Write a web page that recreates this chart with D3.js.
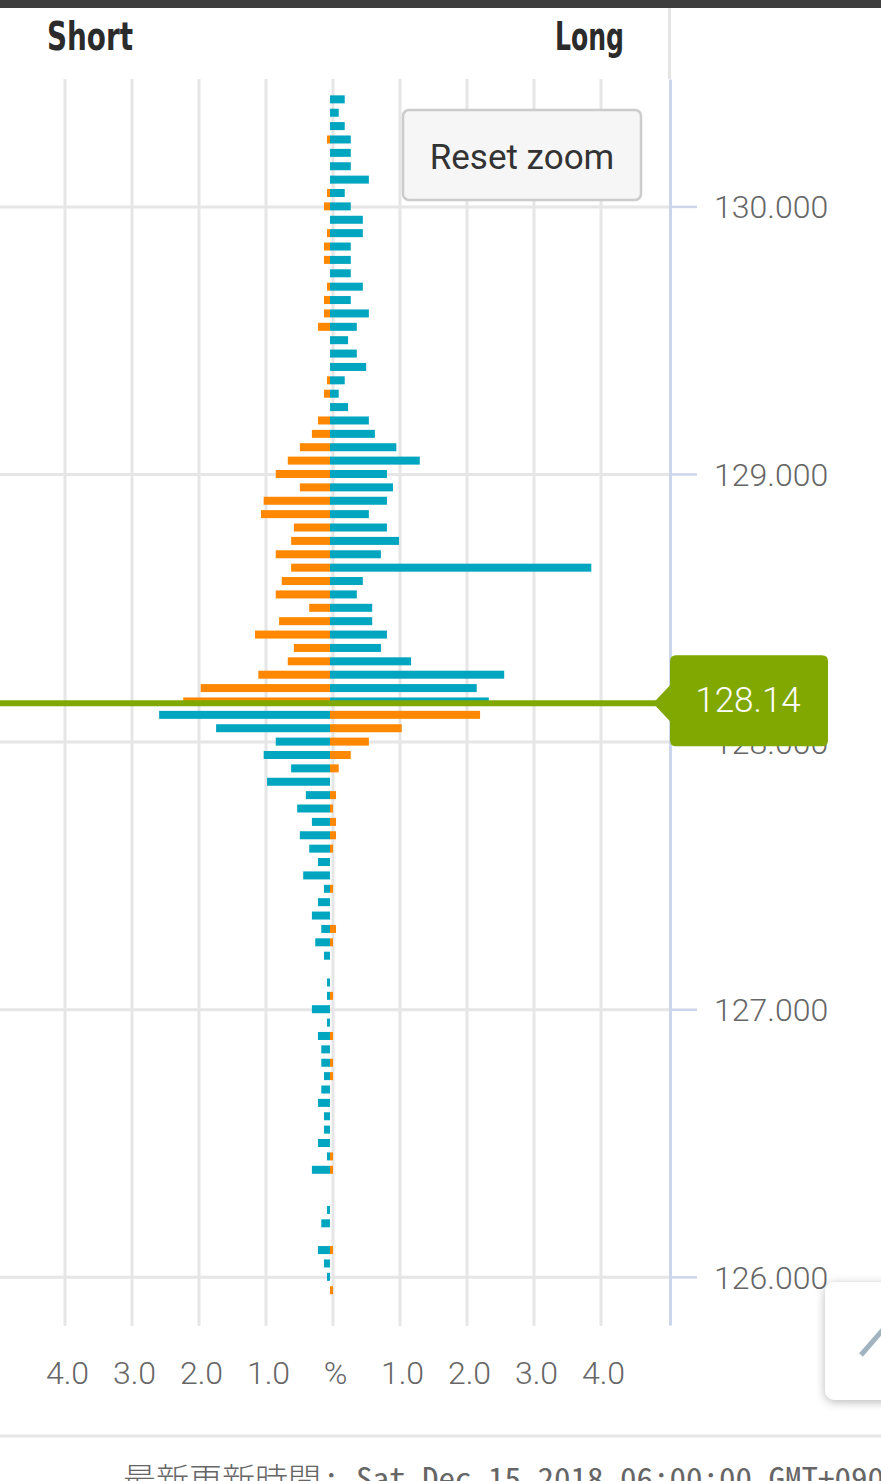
<!DOCTYPE html>
<html><head><meta charset="utf-8">
<script src="https://cdn.jsdelivr.net/npm/d3@7"></script>
<style>
html,body{margin:0;padding:0;background:#fff;overflow:hidden}
svg{display:block}
</style>
</head><body>
<svg id="chart" width="881" height="1481"></svg>
<script>
// ---- data ----
const prices = [130.40,130.35,130.30,130.25,130.20,130.15,130.10,130.05,130.00,129.95,
  129.90,129.85,129.80,129.75,129.70,129.65,129.60,129.55,129.50,129.45,
  129.40,129.35,129.30,129.25,129.20,129.15,129.10,129.05,129.00,128.95,
  128.90,128.85,128.80,128.75,128.70,128.65,128.60,128.55,128.50,128.45,
  128.40,128.35,128.30,128.25,128.20,128.15,128.10,128.05,128.00,127.95,
  127.90,127.85,127.80,127.75,127.70,127.65,127.60,127.55,127.50,127.45,
  127.40,127.35,127.30,127.25,127.20,127.15,127.10,127.05,127.00,126.95,
  126.90,126.85,126.80,126.75,126.70,126.65,126.60,126.55,126.50,126.45,
  126.40,126.35,126.30,126.25,126.20,126.15,126.10,126.05,126.00,125.95];
const orangeValues = [0,0,0,-0.045,0,0,0,-0.045,-0.09,0,
  -0.045,-0.09,-0.09,0,-0.045,-0.09,-0.09,-0.18,0,0,
  0,-0.045,-0.09,0,-0.18,-0.27,-0.45,-0.63,-0.81,-0.45,
  -0.99,-1.03,-0.54,-0.58,-0.81,-0.58,-0.72,-0.81,-0.31,-0.76,
  -1.12,-0.54,-0.63,-1.07,-1.93,-2.19,2.24,1.07,0.58,0.31,
  0.13,0,0.09,0.045,0.09,0.09,0.045,0,0,0.045,
  0,0,0.09,0.045,0,0,0,0.045,0,0,
  0.045,0,0.045,0.045,0,0,0,0,0,0.045,
  0.045,0,0,0,0,0,0.045,0,0,0.045];
const blueValues = [0.22,0.13,0.22,0.31,0.31,0.31,0.58,0.22,0.31,0.49,
  0.49,0.31,0.31,0.31,0.49,0.31,0.58,0.40,0.27,0.40,
  0.54,0.22,0.13,0.27,0.58,0.67,0.99,1.34,0.85,0.94,
  0.85,0.58,0.85,1.03,0.76,3.90,0.49,0.40,0.63,0.63,
  0.85,0.76,1.21,2.60,2.19,2.37,-2.55,-1.70,-0.81,-0.99,
  -0.58,-0.94,-0.36,-0.49,-0.27,-0.45,-0.31,-0.18,-0.40,-0.09,
  -0.18,-0.27,-0.13,-0.22,-0.09,0,-0.045,-0.045,-0.27,-0.045,
  -0.18,-0.13,-0.13,-0.09,-0.13,-0.18,-0.09,-0.09,-0.18,-0.045,
  -0.27,0,0,-0.045,-0.13,0,-0.18,-0.09,-0.045,0];
const currentPrice = 128.14;
const priceTicks = [126, 127, 128, 129, 130];
const pctTicks = [-4, -3, -2, -1, 0, 1, 2, 3, 4];
const headerLabels = ["Short", "Long"];
const footerPrefix = "最新更新時間";
const footerRest = ": Sat Dec 15 2018 06:00:00 GMT+0900 (JST)";

// ---- colours ----
const ORANGE = "#ff8800", BLUE = "#00a5bf", GREEN = "#80a800";
const GRID = "#e6e6e6", AXIS = "#ccd6eb", LABEL = "#666666";

const svg = d3.select("#chart");
const defs = svg.append("defs");
const f = defs.append("filter").attr("id","shadow").attr("x","-30%").attr("y","-30%").attr("width","160%").attr("height","160%");
f.append("feDropShadow").attr("dx",0).attr("dy",2).attr("stdDeviation",5).attr("flood-color","#000").attr("flood-opacity",0.28);

// ---- scales ----
const x = d3.scaleLinear().domain([-5, 5]).range([-5, 665]);          // bars
const xGrid = x.copy().range([-2.5, 667.5]);                           // grid / labels
const y = d3.scaleLinear().domain([125.82, 130.476]).range([1325, 79]);
const plotRight = 670, plotTop = 79, plotBottom = 1326;

// ---- header ----
svg.append("rect").attr("x",0).attr("y",0).attr("width",881).attr("height",8).attr("fill","#3e3e3e");
svg.append("line").attr("x1",669.5).attr("x2",669.5).attr("y1",8).attr("y2",plotTop)
  .attr("stroke","#e4e4e4").attr("stroke-width",3);
const hdr = svg.append("g").attr("font-family","'Liberation Sans Narrow','DejaVu Sans Condensed','Roboto',sans-serif")
  .attr("font-weight","bold").attr("font-size",39).attr("fill","#2b2b2b");
hdr.append("text").attr("x",47).attr("y",50).attr("textLength",86).attr("lengthAdjust","spacingAndGlyphs").text(headerLabels[0]);
hdr.append("text").attr("x",555).attr("y",50).attr("textLength",69).attr("lengthAdjust","spacingAndGlyphs").text(headerLabels[1]);

// ---- grid ----
const vGrid = svg.append("g").attr("transform",`translate(0,${plotBottom})`)
  .call(d3.axisBottom(xGrid).tickValues(pctTicks).tickSize(-(plotBottom - plotTop)).tickFormat(""));
vGrid.select(".domain").remove();
vGrid.selectAll(".tick line").attr("stroke",GRID).attr("stroke-width",3);

const hGrid = svg.append("g").attr("transform",`translate(${plotRight},0)`)
  .call(d3.axisLeft(y).tickValues(priceTicks).tickSize(plotRight).tickFormat(""));
hGrid.select(".domain").remove();
hGrid.selectAll(".tick line").attr("stroke",GRID).attr("stroke-width",3);

// ---- bars ----
const rows = prices.map((p,i)=>({p, o: orangeValues[i], b: blueValues[i]}));
const barH = 8;
function barRect(sel, key, color){
  sel.selectAll(null).data(rows.filter(d=>d[key]!==0)).join("rect")
    .attr("x", d=>Math.min(x(0), x(d[key])))
    .attr("width", d=>Math.abs(x(d[key]) - x(0)))
    .attr("y", d=>y(d.p) - barH/2)
    .attr("height", barH)
    .attr("fill", color);
}
const bars = svg.append("g");
barRect(bars, "o", ORANGE);
barRect(bars, "b", BLUE);

// ---- right (price) axis ----
const yAxis = svg.append("g").attr("transform",`translate(${plotRight},0)`)
  .call(d3.axisRight(y).tickValues(priceTicks).tickSize(27).tickSizeOuter(0).tickPadding(17).tickFormat(d3.format(".3f")));
yAxis.select(".domain").attr("stroke",AXIS).attr("stroke-width",3);
yAxis.selectAll(".tick line").attr("stroke",AXIS).attr("stroke-width",2.5);
yAxis.selectAll(".tick text").attr("fill",LABEL).attr("font-family","Roboto,sans-serif")
  .attr("font-size",32).attr("font-weight",300).attr("dy","0.36em");

// ---- bottom (percent) axis labels ----
const xAxis = svg.append("g").attr("transform",`translate(0,${plotBottom})`)
  .call(d3.axisBottom(xGrid).tickValues(pctTicks).tickSize(0)
    .tickFormat(d => d === 0 ? "%" : Math.abs(d).toFixed(1)));
xAxis.select(".domain").remove();
xAxis.selectAll(".tick text").attr("fill",LABEL).attr("font-family","Roboto,sans-serif")
  .attr("font-size",32).attr("font-weight",300).attr("y",58).attr("dy",0).attr("dx",2.5);

// ---- current price line & label ----
const cy = y(currentPrice) - 1;
svg.append("line").attr("x1",0).attr("x2",660).attr("y1",cy).attr("y2",cy)
  .attr("stroke",GREEN).attr("stroke-width",6);
const lb = svg.append("g");
const t = cy - 48, b = cy + 43, l = 670, r = 828, rr = 6;
lb.append("path").attr("fill",GREEN).attr("d",
  `M653,${cy} L${l},${cy-18} L${l},${t+rr} Q${l},${t} ${l+rr},${t} L${r-rr},${t} Q${r},${t} ${r},${t+rr}
   L${r},${b-rr} Q${r},${b} ${r-rr},${b} L${l+rr},${b} Q${l},${b} ${l},${b-rr} L${l},${cy+18} Z`);
lb.append("text").attr("x",748).attr("y",cy+9).attr("text-anchor","middle")
  .attr("font-family","Roboto,sans-serif").attr("font-size",35).attr("font-weight",300)
  .attr("fill","#fff").text(d3.format(".2f")(currentPrice));

// ---- reset zoom button ----
const btn = svg.append("g");
btn.append("rect").attr("x",403).attr("y",110).attr("width",238).attr("height",90).attr("rx",6)
  .attr("fill","#f6f6f6").attr("stroke","#cccccc").attr("stroke-width",2.5);
btn.append("text").attr("x",522).attr("y",169).attr("text-anchor","middle")
  .attr("font-family","Roboto,sans-serif").attr("font-size",35).attr("fill","#333").text("Reset zoom");

// ---- separator & footer ----
svg.append("line").attr("x1",0).attr("x2",881).attr("y1",1436).attr("y2",1436)
  .attr("stroke","#e6e6e6").attr("stroke-width",3);
const foot = svg.append("g").attr("fill",LABEL).attr("font-weight",300);
foot.append("text").attr("x",123).attr("y",1492).attr("font-family","'Noto Sans CJK JP',sans-serif")
  .attr("font-size",33).attr("textLength",198).attr("lengthAdjust","spacingAndGlyphs").text(footerPrefix);
foot.append("text").attr("x",323).attr("y",1490).attr("font-family","'Noto Sans Mono CJK JP','DejaVu Sans Mono',monospace")
  .attr("font-size",31).attr("textLength",footerRest.length*16.5).attr("lengthAdjust","spacingAndGlyphs").text(footerRest);

// ---- bottom-right floating button ----
svg.append("rect").attr("x",825).attr("y",1282).attr("width",90).attr("height",118).attr("rx",10)
  .attr("fill","#fff").attr("filter","url(#shadow)");
svg.append("line").attr("x1",861).attr("y1",1355).attr("x2",895).attr("y2",1316)
  .attr("stroke","#a2b4c0").attr("stroke-width",5);
</script>
</body></html>
